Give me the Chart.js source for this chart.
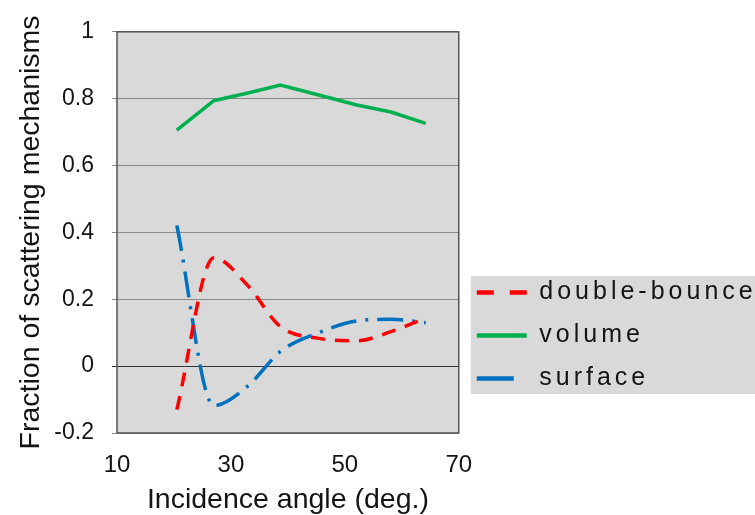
<!DOCTYPE html>
<html lang="en">
<head>
<meta charset="UTF-8">
<title>Fraction of scattering mechanisms</title>
<script src="https://cdn.jsdelivr.net/npm/chart.js"></script>
<style>
    html, body { margin: 0; padding: 0; background: #fff; }
    #chart-container { width: 755px; height: 515px; }
</style>
</head>
<body>
<div id="chart-container">
    <canvas id="mechChart" width="755" height="515"></canvas>
</div>
<script>
// values
const angles = [20.5, 27, 33, 38.7, 45.4, 52.1, 58.1, 64.2];
const doubleBounce = [-0.13, 0.324, 0.24, 0.118, 0.083, 0.076, 0.103, 0.144];
const volume = [0.706, 0.794, 0.817, 0.841, 0.811, 0.781, 0.76, 0.726];
const surface = [0.421, -0.118, -0.059, 0.044, 0.1, 0.135, 0.14, 0.13];
const seriesNames = ['double-bounce', 'volume', 'surface'];
const xTicks = [10, 30, 50, 70];
const yTicks = [-0.2, 0, 0.2, 0.4, 0.6, 0.8, 1];

const FONT = "'Liberation Sans', Arial, sans-serif";
const TEXT = '#141414';

function toPoints(values) {
    return values.map((v, i) => ({ x: angles[i], y: v }));
}

// legend symbols are drawn a bit differently than the plotted lines
const legendDash = [[17, 16], [], [37, 30]];

// grey plot area, grey legend panel and the box around the plot
const plotBox = {
    id: 'plotBox',
    beforeDraw(chart) {
        const { ctx, chartArea: a } = chart;
        ctx.save();
        ctx.fillStyle = '#d9d9d9';
        ctx.fillRect(a.left, a.top, a.right - a.left, a.bottom - a.top);
        const hb = chart.legend && chart.legend.legendHitBoxes;
        if (hb && hb.length) {
            const first = hb[0], last = hb[hb.length - 1];
            const top = first.top - 4;
            ctx.fillRect(first.left - 6, top, chart.width - first.left + 6,
                last.top + last.height + 3 - top);
        }
        ctx.restore();
    },
    beforeDatasetsDraw(chart) {
        const { ctx, chartArea: a } = chart;
        ctx.save();
        ctx.strokeStyle = '#555';
        ctx.lineWidth = 1.5;
        ctx.strokeRect(a.left, a.top, a.right - a.left, a.bottom - a.top);
        ctx.restore();
    }
};

const ctx = document.getElementById('mechChart').getContext('2d');

const chart = new Chart(ctx, {
    type: 'line',
    data: {
        datasets: [{
            label: seriesNames[0],
            data: toPoints(doubleBounce),
            borderColor: '#ff0000',
            borderWidth: 3.5,
            borderDash: [14, 10],
            cubicInterpolationMode: 'monotone',
            pointRadius: 0,
            fill: false
        }, {
            label: seriesNames[1],
            data: toPoints(volume),
            borderColor: '#00b050',
            borderWidth: 3.5,
            tension: 0,
            pointRadius: 0,
            fill: false
        }, {
            label: seriesNames[2],
            data: toPoints(surface),
            borderColor: '#0070c0',
            borderWidth: 3.5,
            borderDash: [26, 9, 3, 9],
            cubicInterpolationMode: 'monotone',
            pointRadius: 0,
            fill: false
        }]
    },
    options: {
        responsive: false,
        animation: false,
        devicePixelRatio: 1,
        layout: { padding: { top: 25, right: 0, bottom: 0, left: 0 } },
        scales: {
            x: {
                type: 'linear',
                min: 10,
                max: 70,
                afterBuildTicks(scale) { scale.ticks = xTicks.map(v => ({ value: v })); },
                afterFit(scale) { scale.height = 82; },
                grid: { display: false, drawTicks: false },
                border: { display: false },
                ticks: {
                    padding: 18,
                    color: TEXT,
                    font: { family: FONT, size: 24 },
                    maxRotation: 0
                },
                title: {
                    display: true,
                    text: 'Incidence angle (deg.)',
                    color: TEXT,
                    font: { family: FONT, size: 28.5, lineHeight: 1 },
                    padding: { top: 0, bottom: 1 }
                }
            },
            y: {
                min: -0.2,
                max: 1,
                afterBuildTicks(scale) { scale.ticks = yTicks.map(v => ({ value: v })); },
                afterFit(scale) { scale.width = 117; },
                grid: {
                    color: c => (c.tick && c.tick.value === 0) ? '#333' : '#8a8a8a',
                    lineWidth: 1,
                    tickLength: 5
                },
                border: { display: false },
                ticks: {
                    padding: 18,
                    color: TEXT,
                    font: { family: FONT, size: 23 },
                    callback: v => String(Math.round(v * 10) / 10)
                },
                title: {
                    display: true,
                    text: 'Fraction of scattering mechanisms',
                    color: TEXT,
                    font: { family: FONT, size: 28.5, lineHeight: 1 },
                    padding: { top: 17, bottom: 0 }
                }
            }
        },
        plugins: {
            tooltip: { enabled: false },
            legend: {
                position: 'right',
                align: 'start',
                maxWidth: 320,
                title: {
                    display: true,
                    text: ' ',
                    font: { size: 10 },
                    padding: { top: 225, bottom: 0 }
                },
                labels: {
                    usePointStyle: true,
                    pointStyle: 'line',
                    pointStyleWidth: 50,
                    padding: 18,
                    color: TEXT,
                    font: { family: FONT, size: 25 },
                    generateLabels(c) {
                        const items = Chart.defaults.plugins.legend.labels.generateLabels(c);
                        items.forEach((it, i) => {
                            it.lineDash = legendDash[i];
                            it.lineWidth = 4.5;
                        });
                        return items;
                    }
                }
            }
        }
    },
    plugins: [plotBox]
});

// the legend text in the figure is letter-spaced; the measured width is kept a
// little narrower so the legend column lines up with the reference
function withSpacing(fn, spacing) {
    return function () {
        const c = this.ctx;
        c.save();
        c.letterSpacing = spacing;
        const r = fn.apply(this, arguments);
        c.restore();
        return r;
    };
}
chart.legend.fit = withSpacing(chart.legend.fit, '3.1px');
chart.legend.draw = withSpacing(chart.legend.draw, '4px');
chart.update('none');
</script>
</body>
</html>
